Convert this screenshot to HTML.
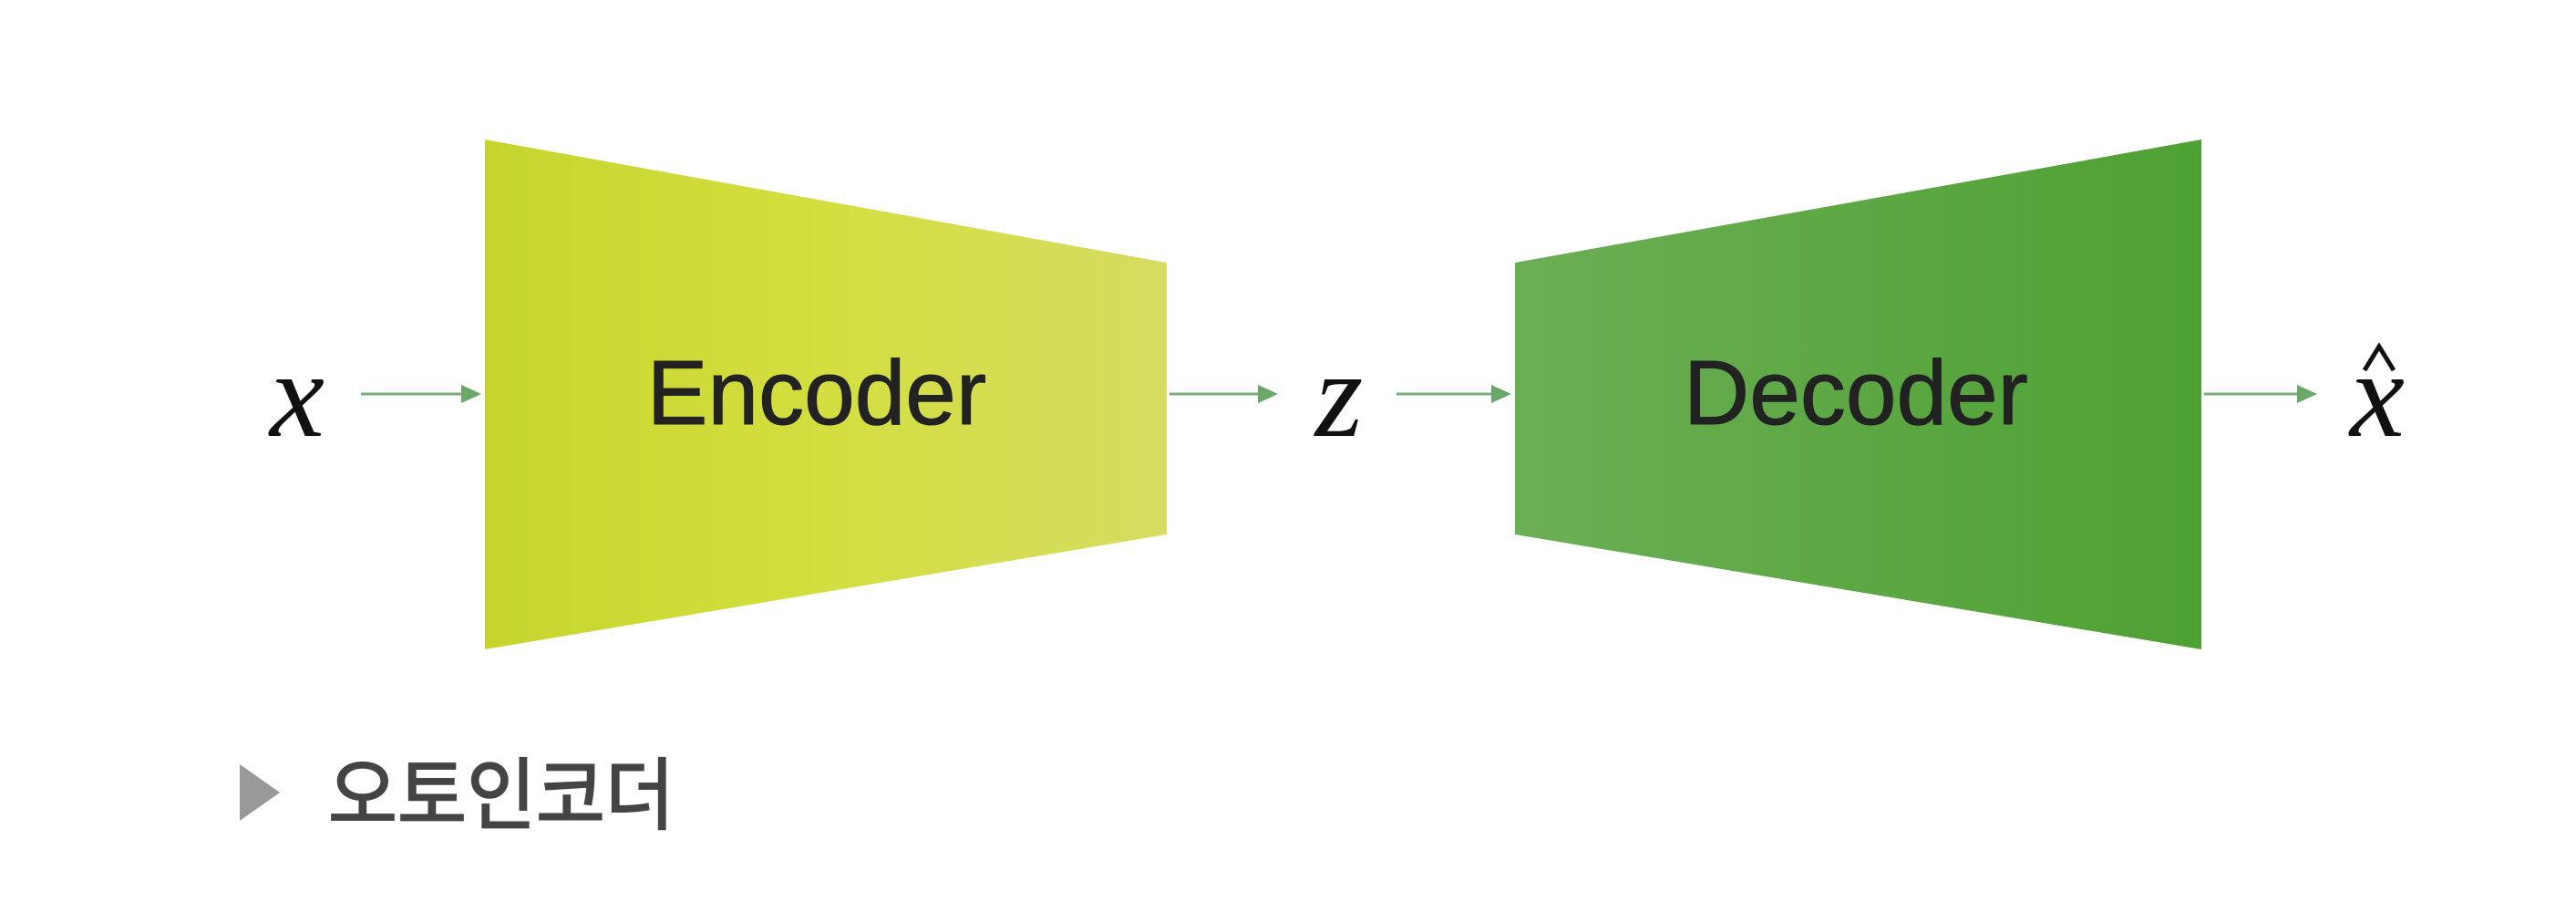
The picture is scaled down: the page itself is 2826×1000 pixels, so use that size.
<!DOCTYPE html>
<html><head><meta charset="utf-8"><style>
html,body{margin:0;padding:0;background:#fff;width:2826px;height:1000px;overflow:hidden}
</style></head><body>
<svg width="2826" height="1000" xmlns="http://www.w3.org/2000/svg">
<defs>
<linearGradient id="ge" x1="0" x2="1" y1="0" y2="0">
<stop offset="0" stop-color="#c5d52e"/><stop offset="0.5" stop-color="#d3df3f"/><stop offset="1" stop-color="#d5dc62"/></linearGradient>
<linearGradient id="gd" x1="0" x2="1" y1="0" y2="0">
<stop offset="0" stop-color="#6cae55"/><stop offset="1" stop-color="#4ea133"/></linearGradient>
</defs>
<polygon points="532,153 1280,288 1280,586 532,712" fill="url(#ge)"/>
<polygon points="1662,288 2415,153 2415,712 1662,586" fill="url(#gd)"/>
<g stroke="#7aad7a" stroke-width="3">
<line x1="396" y1="432" x2="512" y2="432"/>
<line x1="1283" y1="432" x2="1385" y2="432"/>
<line x1="1532" y1="432" x2="1640" y2="432"/>
<line x1="2418" y1="432" x2="2525" y2="432"/>
</g>
<path d="M506,422 L528,432 L506,442z M1380,422 L1402,432 L1380,442z M1636,422 L1658,432 L1636,442z M2520,422 L2542,432 L2520,442z" fill="#6aa86a"/>
<g font-family="Liberation Sans, sans-serif" fill="#222" font-size="100" text-anchor="middle" stroke="#222" stroke-width="1">
<text x="896" y="465">Encoder</text>
<text x="2036" y="465">Decoder</text>
</g>
<g font-family="Liberation Serif, serif" font-style="italic" fill="#111" font-size="135" text-anchor="middle">
<text x="326" y="478">x</text>
<text x="1469" y="478">z</text>
<text x="2608" y="478">x</text>
</g>
<path d="M2594,406 L2610,380 L2626,406" fill="none" stroke="#111" stroke-width="5"/>
<polygon points="263,838 307,869 263,900" fill="#999"/>
<text x="360" y="902" font-family="Liberation Sans, 'Noto Sans CJK KR', sans-serif" font-size="86" fill="#444" stroke="#444" stroke-width="2" textLength="380" lengthAdjust="spacingAndGlyphs">오토인코더</text>
</svg>
</body></html>
